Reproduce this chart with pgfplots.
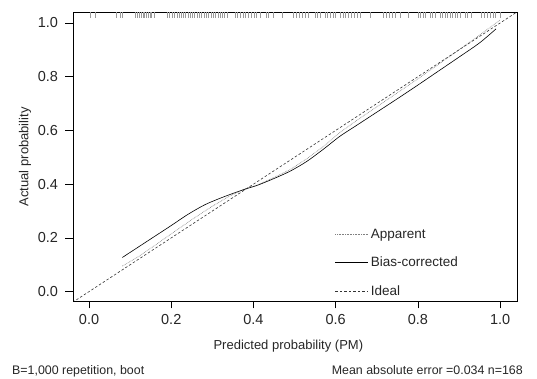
\documentclass[border=0pt]{standalone}
\usepackage{fontspec}
\setmainfont{Liberation Sans}
\usepackage{pgfplots}
\pgfplotsset{compat=1.18}
\begin{document}
\begin{tikzpicture}
\begin{axis}[
  name=ax,
  scale only axis, width=444pt, height=288.5pt,
  xmin=-0.039, xmax=1.041, ymin=-0.035, ymax=1.039,
  xtick={0,0.2,0.4,0.6,0.8,1}, ytick={0,0.2,0.4,0.6,0.8,1},
  xtick pos=bottom, ytick pos=left,
  tick align=outside, major tick length=7.5pt,
  tick style={black, line width=0.6pt},
  axis line style={line width=0.7pt},
  /pgf/number format/.cd, fixed, fixed zerofill, precision=1, assume math mode=true,
  /pgfplots/.cd,
  ticklabel style={font=\fontsize{14.5}{15}\selectfont, text=black!85},
  xticklabel style={yshift=-2pt},
  yticklabel style={xshift=-4pt},
  xlabel={Predicted probability (PM)},
  ylabel={Actual probability},
  label style={font=\fontsize{13}{14}\selectfont, text=black!85},
  xlabel style={at={(axis description cs:0.485,0)}, anchor=north, yshift=-36pt},
  ylabel style={at={(axis description cs:-0.108,0.5)}, anchor=center},
  legend style={draw=none, fill=none, at={(axis description cs:0.59,0.258)}, anchor=north west,
     font=\fontsize{13.5}{14}\selectfont, text=black!85, row sep=13.5pt, inner sep=0pt},
  legend cell align=left,
  legend image code/.code={\draw[#1] (0pt,0pt) -- (33pt,0pt);},
]
\addplot[gray, line width=0.6pt, dash pattern=on 0.7pt off 0.9pt] coordinates {
(0.081,0.095) (0.12,0.13) (0.16,0.172) (0.20,0.215) (0.25,0.268) (0.30,0.318)
(0.34,0.354) (0.38,0.383) (0.41,0.397) (0.45,0.425) (0.49,0.455) (0.53,0.495)
(0.57,0.54) (0.61,0.592) (0.65,0.636) (0.70,0.688) (0.75,0.74) (0.80,0.792)
(0.85,0.846) (0.90,0.90) (0.95,0.955) (0.99,1.0) (1.0,1.012)};
\addlegendentry{Apparent}
\addplot[black, line width=0.6pt, smooth] coordinates {
(0.081,0.127) (0.12,0.166) (0.16,0.206) (0.20,0.246) (0.24,0.287) (0.28,0.322)
(0.31,0.342) (0.335,0.357) (0.36,0.371) (0.385,0.384) (0.41,0.396) (0.45,0.421)
(0.49,0.449) (0.53,0.485) (0.57,0.530) (0.61,0.578) (0.65,0.618) (0.70,0.668)
(0.75,0.718) (0.80,0.769) (0.85,0.821) (0.90,0.873) (0.95,0.926) (0.99,0.978)};
\addlegendentry{Bias-corrected}
\addplot[black!80, line width=0.6pt, dash pattern=on 2.5pt off 2pt] coordinates {(-0.04,-0.04) (1.05,1.05)};
\addlegendentry{Ideal}
\addplot[forget plot, only marks, mark=|, mark size=3pt, gray!80, line width=0.4pt] table[y expr=1.028] {
x
0.002
0.016
0.065
0.076
0.081
0.112
0.118
0.122
0.127
0.131
0.135
0.139
0.143
0.148
0.152
0.158
0.190
0.196
0.203
0.208
0.214
0.219
0.223
0.229
0.234
0.240
0.246
0.251
0.257
0.262
0.268
0.273
0.279
0.285
0.291
0.296
0.302
0.308
0.314
0.318
0.323
0.329
0.336
0.356
0.361
0.368
0.374
0.381
0.388
0.394
0.401
0.407
0.416
0.430
0.437
0.448
0.469
0.497
0.503
0.510
0.518
0.526
0.532
0.550
0.556
0.562
0.574
0.580
0.587
0.593
0.599
0.611
0.618
0.624
0.631
0.638
0.645
0.652
0.659
0.683
0.715
0.722
0.730
0.737
0.744
0.756
0.776
0.800
0.806
0.812
0.817
0.829
0.835
0.841
0.853
0.860
0.866
0.872
0.878
0.884
0.890
0.896
0.902
0.914
0.921
0.930
0.954
0.961
0.968
0.975
0.982
0.987
0.999
};
\end{axis}
\node[anchor=base west, font=\fontsize{12.4}{13}\selectfont, text=black!85, inner sep=0pt] at ([xshift=-61pt, yshift=-74pt]ax.south west) {B=1,000 repetition, boot};
\node[anchor=base east, font=\fontsize{12.4}{13}\selectfont, text=black!85, inner sep=0pt] at ([xshift=6pt, yshift=-74pt]ax.south east) {Mean absolute error =0.034 n=168};
\path[use as bounding box] (-73pt,-78pt) rectangle (464pt,288.5pt+12.5pt);
\end{tikzpicture}
\end{document}
